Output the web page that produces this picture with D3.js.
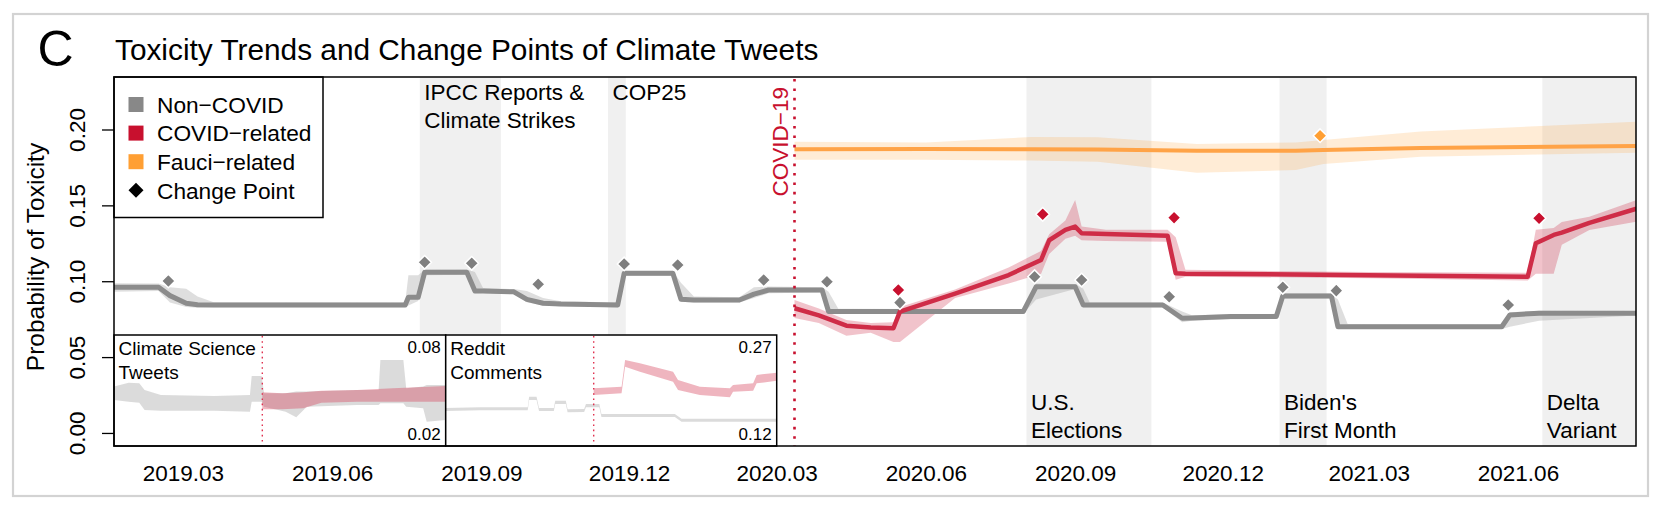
<!DOCTYPE html>
<html><head><meta charset="utf-8">
<script src="https://cdn.jsdelivr.net/npm/d3@7"></script>
<style>body{margin:0;background:#fff}svg{display:block}text{font-family:"Liberation Sans",Arial,Helvetica,sans-serif}</style>
</head><body><svg id="chart" width="1661" height="511"></svg>
<script>
// ---------------- DATA ----------------
const titleLetter = "C";
const titleText = "Toxicity Trends and Change Points of Climate Tweets";
const yLabel = "Probability of Toxicity";
const yTicks = [0, 0.05, 0.10, 0.15, 0.20];
const xTickLabels = ["2019.03","2019.06","2019.09","2019.12","2020.03","2020.06","2020.09","2020.12","2021.03","2021.06"];
const legendLabels = ["Non\u2212COVID","COVID\u2212related","Fauci\u2212related","Change Point"];
const covidDate = "2020-03-12";
const covidLabel = "COVID\u221219";

const eventLabels = [["IPCC Reports &","Climate Strikes"],["COP25"],["U.S.","Elections"],["Biden's","First Month"],["Delta","Variant"]];
const eventStart = ["2019-07-25","2019-11-18","2020-08-02","2021-01-05","2021-06-16"];
const eventEnd   = ["2019-09-13","2019-11-29","2020-10-18","2021-02-03","2021-08-31"];

// Non-COVID series
const nonCovidDates = ["2019-01-17","2019-02-14","2019-02-21","2019-03-03","2019-03-10","2019-03-20","2019-07-16","2019-07-18","2019-07-24","2019-07-28","2019-08-23","2019-08-28","2019-09-02","2019-09-21","2019-09-29","2019-10-09","2019-10-20","2019-11-24","2019-11-28","2019-12-28","2020-01-02","2020-01-10","2020-02-07","2020-02-16","2020-02-25","2020-03-29","2020-04-02","2020-04-08","2020-07-31","2020-08-08","2020-09-01","2020-09-06","2020-09-10","2020-10-25","2020-11-06","2020-11-12","2020-12-06","2021-01-03","2021-01-07","2021-02-06","2021-02-10","2021-02-16","2021-05-22","2021-05-27","2021-06-14","2021-08-13"];
const nonCovidValues = [0.0960,0.0960,0.0905,0.0855,0.0845,0.0843,0.0843,0.0894,0.0894,0.1059,0.1059,0.0936,0.0936,0.0930,0.0880,0.0855,0.0850,0.0843,0.1052,0.1052,0.0881,0.0876,0.0876,0.0915,0.0942,0.0942,0.0800,0.0800,0.0800,0.0964,0.0964,0.0843,0.0843,0.0843,0.0756,0.0758,0.0767,0.0767,0.0903,0.0903,0.0700,0.0700,0.0700,0.0778,0.0789,0.0789];
const nonCovidLower  = [0.0931,0.0935,0.0860,0.0830,0.0825,0.0828,0.0828,0.0840,0.0870,0.1040,0.1042,0.0920,0.0922,0.0915,0.0862,0.0840,0.0835,0.0828,0.1035,0.1035,0.0865,0.0860,0.0860,0.0890,0.0920,0.0925,0.0785,0.0785,0.0785,0.0880,0.0948,0.0828,0.0828,0.0828,0.0730,0.0740,0.0750,0.0752,0.0886,0.0886,0.0685,0.0685,0.0685,0.0700,0.0740,0.0775];
const nonCovidUpper  = [0.0987,0.0985,0.0960,0.0950,0.0900,0.0862,0.0860,0.1040,0.1040,0.1075,0.1078,0.1060,0.0955,0.0948,0.0935,0.0890,0.0868,0.0860,0.1068,0.1068,0.0990,0.0900,0.0895,0.0960,0.0965,0.0960,0.0930,0.0818,0.0815,0.0985,0.0982,0.0950,0.0860,0.0860,0.0800,0.0775,0.0782,0.0785,0.0920,0.0920,0.0880,0.0718,0.0715,0.0795,0.0806,0.0803];

// COVID-related series
const covidDates = ["2020-03-12","2020-03-27","2020-04-13","2020-04-28","2020-05-12","2020-05-16","2020-06-19","2020-07-22","2020-08-11","2020-08-16","2020-08-26","2020-09-01","2020-09-05","2020-09-20","2020-10-28","2020-11-02","2020-11-08","2021-03-01","2021-06-07","2021-06-12","2021-06-23","2021-06-28","2021-07-15","2021-08-13"];
const covidValues = [0.0822,0.0775,0.0707,0.0695,0.0690,0.0800,0.0918,0.1041,0.1140,0.1270,0.1338,0.1360,0.1316,0.1312,0.1300,0.1052,0.1050,0.1040,0.1030,0.1250,0.1305,0.1320,0.1385,0.1478];
const covidLower  = [0.0758,0.0725,0.0640,0.0660,0.0600,0.0600,0.0890,0.0985,0.1050,0.1180,0.1280,0.1300,0.1270,0.1265,0.1260,0.1010,0.1030,0.1020,0.1005,0.1050,0.1050,0.1240,0.1338,0.1393];
const covidUpper  = [0.0876,0.0820,0.0745,0.0725,0.0730,0.0830,0.0945,0.1090,0.1200,0.1310,0.1400,0.1535,0.1360,0.1340,0.1340,0.1290,0.1075,0.1060,0.1055,0.1340,0.1350,0.1390,0.1425,0.1535];

// Fauci-related series
const fauciDates  = ["2020-03-12","2020-06-01","2020-08-05","2020-09-15","2020-11-15","2021-01-15","2021-02-01","2021-04-02","2021-08-13"];
const fauciValues = [0.1870,0.1872,0.1870,0.1868,0.1860,0.1860,0.1865,0.1878,0.1891];
const fauciLower  = [0.1800,0.1800,0.1795,0.1788,0.1715,0.1733,0.1773,0.1820,0.1847];
const fauciUpper  = [0.1920,0.1915,0.1950,0.1949,0.1904,0.1915,0.1930,0.1986,0.2052];

// change points
const cpNonCovidDates  = ["2019-02-20","2019-07-28","2019-08-26","2019-10-06","2019-11-28","2019-12-31","2020-02-22","2020-04-01","2020-05-16","2020-08-07","2020-09-05","2020-10-29","2021-01-07","2021-02-09","2021-05-26"];
const cpNonCovidValues = [0.1002,0.1125,0.1118,0.0980,0.1114,0.1107,0.1008,0.0997,0.0859,0.1030,0.1008,0.0898,0.0960,0.0938,0.0843];
const cpCovidDates  = ["2020-05-15","2020-08-12","2020-11-01","2021-06-14"];
const cpCovidValues = [0.0942,0.1441,0.1419,0.1415];
const cpFauciDates  = ["2021-01-30"];
const cpFauciValues = [0.1959];

// inset 1: Climate Science Tweets
const inset1Title = ["Climate Science","Tweets"];
const inset1Range = [0.02, 0.08];
const inset1Labels = ["0.08","0.02"];
const inset1GrayDates = ["2019-01-17","2019-02-28","2019-03-30","2019-04-14","2019-05-30","2019-10-28","2020-02-06","2020-02-11","2020-03-10","2020-03-17","2020-05-17","2020-06-16","2020-07-16","2020-12-05","2021-02-04","2021-02-09","2021-04-15","2021-04-23","2021-06-10","2021-06-20","2021-08-13"];
const inset1GrayUpper = [0.0521,0.0542,0.0539,0.0503,0.0476,0.0470,0.0476,0.0578,0.0578,0.0485,0.0485,0.0494,0.0494,0.0503,0.0503,0.0665,0.0665,0.0512,0.0521,0.0530,0.0530];
const inset1GrayLower = [0.0449,0.0439,0.0434,0.0395,0.0391,0.0391,0.0385,0.0439,0.0439,0.0412,0.0385,0.0355,0.0412,0.0422,0.0422,0.0431,0.0431,0.0412,0.0404,0.0331,0.0341];
const inset1RedDates = ["2020-03-12","2020-05-07","2020-07-06","2020-08-26","2020-12-05","2021-03-16","2021-08-13"];
const inset1RedUpper = [0.0490,0.0485,0.0490,0.0499,0.0503,0.0512,0.0524];
const inset1RedLower = [0.0398,0.0398,0.0404,0.0434,0.0439,0.0439,0.0439];

// inset 2: Reddit Comments
const inset2Title = ["Reddit","Comments"];
const inset2Range = [0.12, 0.27];
const inset2Labels = ["0.27","0.12"];
const inset2GrayDates = ["2019-01-17","2019-04-25","2019-09-07","2019-09-11","2019-10-02","2019-10-09","2019-11-20","2019-11-24","2019-12-24","2019-12-29","2020-02-14","2020-02-19","2020-03-28","2020-04-03","2020-10-28","2020-11-16","2021-08-13"];
const inset2GrayUpper = [0.1714,0.1723,0.1723,0.1866,0.1866,0.1714,0.1714,0.1812,0.1812,0.1696,0.1700,0.1768,0.1768,0.1632,0.1632,0.1569,0.1569];
const inset2GrayLower = [0.1673,0.1682,0.1682,0.1822,0.1822,0.1673,0.1673,0.1768,0.1768,0.1655,0.1660,0.1723,0.1723,0.1592,0.1592,0.1528,0.1528];
const inset2RedDates = ["2020-03-12","2020-05-30","2020-06-09","2020-07-21","2020-10-23","2020-11-06","2021-01-07","2021-04-02","2021-04-11","2021-06-07","2021-06-17","2021-08-13"];
const inset2RedUpper = [0.1980,0.2001,0.2362,0.2318,0.2204,0.2092,0.2001,0.1980,0.2024,0.2047,0.2160,0.2191];
const inset2RedLower = [0.1889,0.1912,0.2272,0.2204,0.2069,0.1957,0.1889,0.1858,0.1934,0.1947,0.2047,0.2082];

// ---------------- DRAW ----------------
const W = 1661, H = 511;
const P = {left: 114, right: 1636, top: 77, bottom: 446};
const pd = d3.utcParse("%Y-%m-%d");
const C = {gray:"#8c8c8c", red:"#cf2c47", redPt:"#c8102e", redBand:"#c8102e",
           orange:"#ffa347", orangePt:"#ff9f33", orangeBand:"#ffa033", event:"#f0f0f0"};

const svg = d3.select("#chart");
svg.append("rect").attr("width", W).attr("height", H).attr("fill", "#fff");
svg.append("rect").attr("x", 13).attr("y", 14).attr("width", 1635).attr("height", 482)
  .attr("fill", "none").attr("stroke", "#d3d3d3").attr("stroke-width", 2.2);

const x = d3.scaleUtc().domain([new Date(Date.UTC(2019,0,17,12)), new Date(Date.UTC(2021,7,12,18))]).range([P.left, P.right]);
const y = d3.scaleLinear().domain([-0.0086, 0.2346]).range([P.bottom, P.top]);

const defs = svg.append("defs");
defs.append("clipPath").attr("id", "pc").append("rect")
  .attr("x", P.left).attr("y", P.top).attr("width", P.right - P.left).attr("height", P.bottom - P.top);

const plot = svg.append("g").attr("clip-path", "url(#pc)");

// event bands
eventStart.forEach((s, i) => {
  plot.append("rect").attr("x", x(pd(s))).attr("y", P.top)
    .attr("width", x(pd(eventEnd[i])) - x(pd(s))).attr("height", P.bottom - P.top)
    .attr("fill", C.event);
});

function zip(dates, v, lo, hi) {
  return dates.map((d, i) => ({date: pd(d), v: v ? v[i] : null, lo: lo[i], hi: hi[i]}));
}
const nonCovid = zip(nonCovidDates, nonCovidValues, nonCovidLower, nonCovidUpper);
const covid = zip(covidDates, covidValues, covidLower, covidUpper);
const fauci = zip(fauciDates, fauciValues, fauciLower, fauciUpper);

const area = d3.area().x(d => x(d.date)).y0(d => y(d.lo)).y1(d => y(d.hi));
const line = d3.line().x(d => x(d.date)).y(d => y(d.v));

plot.append("path").datum(fauci).attr("d", area).attr("fill", C.orangeBand).attr("fill-opacity", 0.2);
plot.append("path").datum(nonCovid).attr("d", area).attr("fill", "#9a9a9a").attr("fill-opacity", 0.33);
plot.append("path").datum(covid).attr("d", area).attr("fill", C.redBand).attr("fill-opacity", 0.25);

plot.append("path").datum(fauci).attr("d", line).attr("fill", "none").attr("stroke", C.orange).attr("stroke-width", 4).attr("stroke-linejoin", "round");
plot.append("path").datum(nonCovid).attr("d", line).attr("fill", "none").attr("stroke", C.gray).attr("stroke-width", 5).attr("stroke-linejoin", "round");
plot.append("path").datum(covid).attr("d", line).attr("fill", "none").attr("stroke", C.red).attr("stroke-width", 4.5).attr("stroke-linejoin", "round");

const diamond = r => `M0,${-r}L${r},0L0,${r}L${-r},0Z`;
function drawPts(dates, vals, col) {
  dates.forEach((d, i) => {
    plot.append("path").attr("d", diamond(6.8))
      .attr("transform", `translate(${x(pd(d))},${y(vals[i])})`)
      .attr("fill", col).attr("stroke", "#fff").attr("stroke-width", 1.5);
  });
}
drawPts(cpNonCovidDates, cpNonCovidValues, "#7f7f7f");
drawPts(cpCovidDates, cpCovidValues, C.redPt);
drawPts(cpFauciDates, cpFauciValues, C.orangePt);

// event labels
const covidX = x(pd(covidDate));
eventLabels.forEach((lines, i) => {
  const x0 = x(pd(eventStart[i])) + 4.5;
  const top = pd(eventStart[i]) < pd(covidDate);
  lines.forEach((t, j) => {
    svg.append("text").attr("x", x0).attr("y", top ? 100 + j * 28.3 : 410 + j * 28.3)
      .attr("font-size", 22.5).attr("fill", "#000").text(t);
  });
});

// insets
function inset(x0, x1, title, range, labels, gD, gU, gL, rD, rU, rL, id) {
  const g = svg.append("g");
  g.append("rect").attr("x", x0).attr("y", 335).attr("width", x1 - x0).attr("height", P.bottom - 335)
    .attr("fill", "#fff");
  defs.append("clipPath").attr("id", id).append("rect").attr("x", x0).attr("y", 335).attr("width", x1 - x0).attr("height", P.bottom - 335);
  const xi = d3.scaleUtc().domain(x.domain()).range([x0, x1]);
  const yi = d3.scaleLinear().domain(range).range([P.bottom, 335]);
  const a = d3.area().x(d => xi(d.date)).y0(d => yi(d.lo)).y1(d => yi(d.hi));
  const gc = g.append("g").attr("clip-path", `url(#${id})`);
  gc.append("path").datum(zip(gD, null, gL, gU)).attr("d", a).attr("fill", "#bdbdbd").attr("fill-opacity", 0.55);
  gc.append("path").datum(zip(rD, null, rL, rU)).attr("d", a).attr("fill", "#d8455f").attr("fill-opacity", 0.4);
  const cx = xi(pd(covidDate));
  g.append("line").attr("x1", cx).attr("x2", cx).attr("y1", 336).attr("y2", P.bottom)
    .attr("stroke", "#e0304f").attr("stroke-width", 1.4).attr("stroke-dasharray", "1.6 3.6");
  title.forEach((t, j) => g.append("text").attr("x", x0 + 4.5).attr("y", 355 + j * 23.5).attr("font-size", 19).text(t));
  g.append("text").attr("x", x1 - 5).attr("y", 353).attr("text-anchor", "end").attr("font-size", 17).text(labels[0]);
  g.append("text").attr("x", x1 - 5).attr("y", 440).attr("text-anchor", "end").attr("font-size", 17).text(labels[1]);
  g.append("rect").attr("x", x0).attr("y", 335).attr("width", x1 - x0).attr("height", P.bottom - 335)
    .attr("fill", "none").attr("stroke", "#000").attr("stroke-width", 1.5);
}
inset(P.left, 445.7, inset1Title, inset1Range, inset1Labels, inset1GrayDates, inset1GrayUpper, inset1GrayLower, inset1RedDates, inset1RedUpper, inset1RedLower, "ic1");
inset(445.7, 776.7, inset2Title, inset2Range, inset2Labels, inset2GrayDates, inset2GrayUpper, inset2GrayLower, inset2RedDates, inset2RedUpper, inset2RedLower, "ic2");

// COVID line and label
svg.append("line").attr("x1", covidX).attr("x2", covidX).attr("y1", P.top + 2).attr("y2", P.bottom)
  .attr("stroke", C.redPt).attr("stroke-width", 2.6).attr("stroke-dasharray", "2.6 6.8");
svg.append("text").attr("transform", `translate(${covidX - 6.5},87) rotate(-90)`)
  .attr("text-anchor", "end").attr("font-size", 22.5).attr("fill", C.redPt).text(covidLabel);

// legend
const lg = svg.append("g");
lg.append("rect").attr("x", P.left).attr("y", P.top).attr("width", 209).attr("height", 140.5)
  .attr("fill", "#fff").attr("stroke", "#000").attr("stroke-width", 1.5);
const legCols = ["#888888", C.redPt, C.orangePt];
legendLabels.forEach((t, i) => {
  const cy = 104.5 + i * 28.6;
  if (i < 3) lg.append("rect").attr("x", 128.5).attr("y", cy - 7.5).attr("width", 15).attr("height", 15).attr("fill", legCols[i]);
  else lg.append("path").attr("d", diamond(7.5)).attr("transform", `translate(136,${cy})`).attr("fill", "#000");
  lg.append("text").attr("x", 157).attr("y", cy + 8.2).attr("font-size", 22.7).text(t);
});

// axes
const yAxis = svg.append("g").attr("transform", `translate(${P.left},0)`)
  .call(d3.axisLeft(y).tickValues(yTicks).tickSize(12).tickFormat(d3.format(".2f")));
yAxis.select(".domain").remove();
yAxis.selectAll("line").attr("stroke", "#000").attr("stroke-width", 1.3);
yAxis.selectAll("text").attr("transform", "rotate(-90)").attr("x", 0).attr("y", -29).attr("dy", 0)
  .attr("text-anchor", "middle").attr("font-size", 22.5).attr("font-family", null).attr("fill", "#000");

const xp = d3.utcParse("%Y.%m");
const xAxis = svg.append("g").attr("transform", `translate(0,${P.bottom})`)
  .call(d3.axisBottom(x).tickValues(xTickLabels.map(xp)).tickSize(0).tickFormat(d3.utcFormat("%Y.%m")));
xAxis.select(".domain").remove();
xAxis.selectAll("text").attr("y", 35).attr("dy", 0).attr("font-size", 22.5).attr("font-family", null).attr("fill", "#000");

// plot box
svg.append("rect").attr("x", P.left).attr("y", P.top).attr("width", P.right - P.left).attr("height", P.bottom - P.top)
  .attr("fill", "none").attr("stroke", "#000").attr("stroke-width", 1.5);

// axis title
svg.append("text").attr("transform", `translate(44,257) rotate(-90)`).attr("text-anchor", "middle")
  .attr("font-size", 24.5).text(yLabel);

// title
svg.append("text").attr("x", 37.5).attr("y", 66).attr("font-size", 50).text(titleLetter);
svg.append("text").attr("x", 115).attr("y", 60).attr("font-size", 29.8).text(titleText);
</script></body></html>
